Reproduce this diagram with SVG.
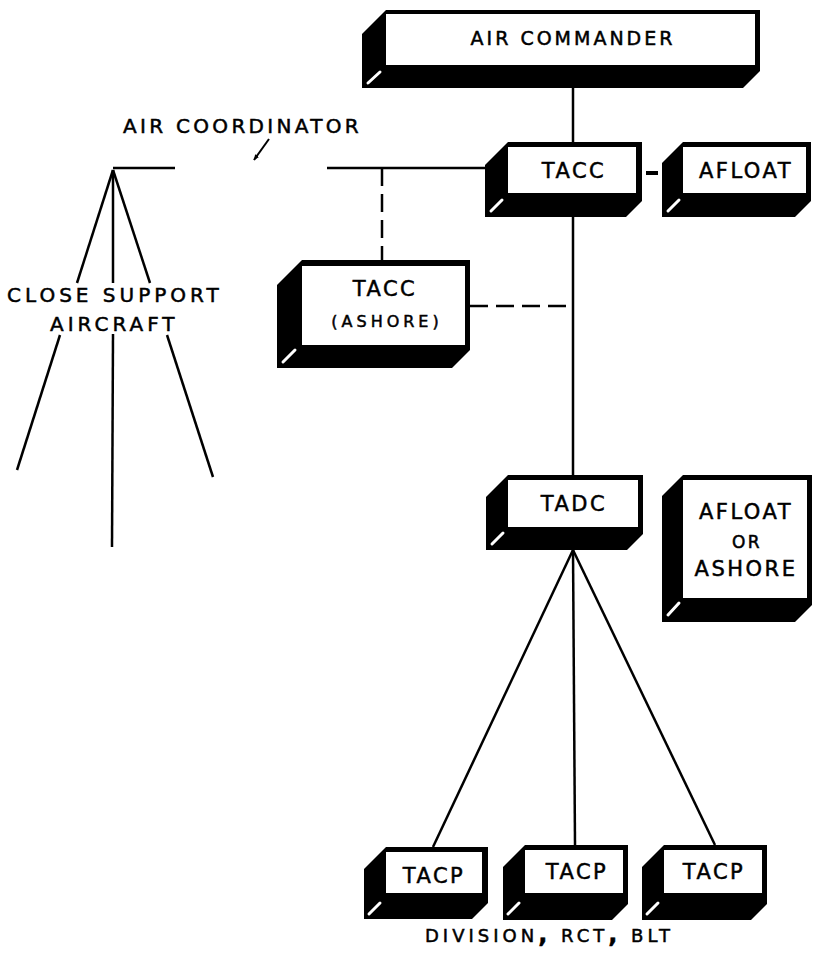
<svg xmlns="http://www.w3.org/2000/svg" width="813" height="954" viewBox="0 0 813 954">
<defs>
<marker id="arr" viewBox="0 0 10 10" refX="9" refY="5" markerWidth="6" markerHeight="6" orient="auto" markerUnits="userSpaceOnUse">
<path d="M0,1 L10,5 L0,9 Z" fill="#000"/>
</marker>
<style>
.blk{fill:#000}
.face{fill:#fff}
.slash{stroke:#fff;stroke-width:3;stroke-linecap:round}
.t{font-family:"DejaVu Sans","Liberation Sans",sans-serif;font-size:21px;letter-spacing:2.5px;fill:#000;stroke:#000;stroke-width:0.5;text-anchor:middle}
.s{font-size:16px;letter-spacing:4px}
.ln{stroke:#000;stroke-width:2.5;fill:none}
.dash{stroke:#000;stroke-width:2.5;fill:none;stroke-dasharray:18 8}
.lbl{font-family:"DejaVu Sans","Liberation Sans",sans-serif;font-size:20px;letter-spacing:4px;fill:#000;stroke:#000;stroke-width:0.5}
</style>
</defs>
<rect width="813" height="954" fill="#fff"/>

<g id="connectors">
<line class="ln" x1="573" y1="88" x2="573" y2="142"/>
<line class="ln" x1="113" y1="168" x2="175" y2="168"/>
<line class="ln" x1="327" y1="168" x2="486" y2="168"/>
<line class="dash" x1="382" y1="168" x2="382" y2="260"/>
<line class="ln" x1="573" y1="217" x2="573" y2="475"/>
<line class="dash" x1="470" y1="306" x2="573" y2="306"/>
<line x1="646" y1="173" x2="658" y2="173" stroke="#000" stroke-width="4"/>
<line class="ln" x1="113" y1="170" x2="77" y2="283"/>
<line class="ln" x1="60" y1="335" x2="17" y2="470"/>
<line class="ln" x1="113" y1="170" x2="113" y2="283"/>
<line class="ln" x1="113" y1="334" x2="112" y2="547"/>
<line class="ln" x1="113" y1="170" x2="150" y2="283"/>
<line class="ln" x1="167" y1="335" x2="213" y2="477"/>
<line class="ln" x1="573" y1="550" x2="433" y2="847"/>
<line class="ln" x1="573" y1="550" x2="575" y2="845"/>
<line class="ln" x1="573" y1="550" x2="715" y2="845"/>
<line x1="269" y1="139" x2="254" y2="160" stroke="#000" stroke-width="2" marker-end="url(#arr)"/>
</g>

<g id="air-commander">
<path class="blk" d="M386,10 L760,10 L760,71 L743,88 L362,88 L362,34 Z"/>
<rect class="face" x="386" y="14" width="369" height="51"/>
<line class="slash" x1="368" y1="83" x2="380" y2="72"/>
<text class="t" x="573" y="45" style="font-size:19px;letter-spacing:3px">AIR COMMANDER</text>
</g>

<g id="tacc">
<path class="blk" d="M508,142 L642,142 L642,201 L626,217 L485,217 L485,165 Z"/>
<rect class="face" x="508" y="147" width="128" height="46"/>
<line class="slash" x1="491" y1="211" x2="502" y2="200"/>
<text class="t" x="574" y="178">TACC</text>
</g>

<g id="afloat">
<path class="blk" d="M683,142 L811,142 L811,201 L795,217 L662,217 L662,163 Z"/>
<rect class="face" x="683" y="147" width="123" height="46"/>
<line class="slash" x1="668" y1="211" x2="679" y2="200"/>
<text class="t" x="746" y="178">AFLOAT</text>
</g>

<g id="tacc-ashore">
<path class="blk" d="M302,260 L470,260 L470,350 L452,368 L277,368 L277,285 Z"/>
<rect class="face" x="302" y="266" width="163" height="79"/>
<line class="slash" x1="283" y1="362" x2="295" y2="350"/>
<text class="t" x="385" y="296">TACC</text>
<text class="t s" x="387" y="327">(ASHORE)</text>
</g>

<g id="tadc">
<path class="blk" d="M508,475 L643,475 L643,534 L627,550 L486,550 L486,497 Z"/>
<rect class="face" x="508" y="480" width="130" height="47"/>
<line class="slash" x1="492" y1="544" x2="503" y2="533"/>
<text class="t" x="574" y="511">TADC</text>
</g>

<g id="afloat-or-ashore">
<path class="blk" d="M683,475 L812,475 L812,605 L795,622 L662,622 L662,496 Z"/>
<rect class="face" x="683" y="480" width="124" height="118"/>
<line class="slash" x1="668" y1="615" x2="679" y2="603"/>
<text class="t" x="746" y="519">AFLOAT</text>
<text class="t" x="747" y="548" style="font-size:17px">OR</text>
<text class="t" x="746" y="576">ASHORE</text>
</g>

<g id="tacp-1">
<path class="blk" d="M386,847 L488,847 L488,903 L472,919 L364,919 L364,869 Z"/>
<rect class="face" x="386" y="852" width="96" height="41"/>
<line class="slash" x1="369" y1="914" x2="380" y2="903"/>
<text class="t" x="434" y="883">TACP</text>
</g>

<g id="tacp-2">
<path class="blk" d="M525,845 L628,845 L628,904 L612,920 L503,920 L503,867 Z"/>
<rect class="face" x="525" y="850" width="98" height="43"/>
<line class="slash" x1="508" y1="914" x2="519" y2="903"/>
<text class="t" x="577" y="879">TACP</text>
</g>

<g id="tacp-3">
<path class="blk" d="M664,845 L767,845 L767,904 L751,920 L642,920 L642,867 Z"/>
<rect class="face" x="664" y="850" width="98" height="43"/>
<line class="slash" x1="647" y1="914" x2="658" y2="903"/>
<text class="t" x="714" y="879">TACP</text>
</g>

<g id="labels">
<text class="lbl" x="123" y="133" style="letter-spacing:3.3px">AIR  COORDINATOR</text>
<text class="lbl" x="7" y="302">CLOSE SUPPORT</text>
<text class="lbl" x="50" y="331">AIRCRAFT</text>
<text class="lbl" x="425" y="942" style="font-size:18px;letter-spacing:4px">DIVISION<tspan font-weight="bold" font-size="24">,</tspan> RCT<tspan font-weight="bold" font-size="24">,</tspan> BLT</text>
</g>
</svg>
